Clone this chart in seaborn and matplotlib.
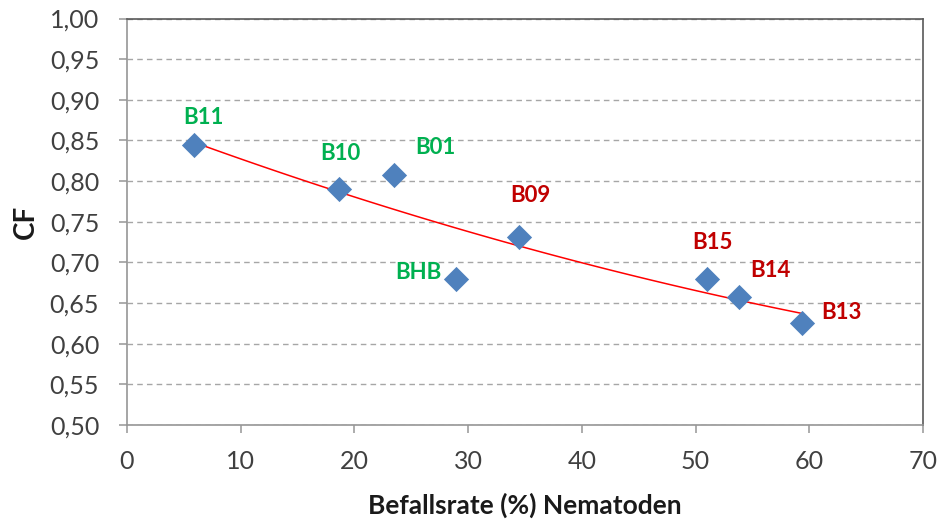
import matplotlib
matplotlib.use("Agg")
import matplotlib.pyplot as plt
import seaborn as sns
import pandas as pd
from matplotlib.ticker import FuncFormatter, MultipleLocator

# data
labels = ["B11", "B10", "B01", "BHB", "B09", "B15", "B14", "B13"]
befallsrate = [5.9, 18.6, 23.5, 28.9, 34.5, 51.0, 53.8, 59.4]
cf = [0.844, 0.790, 0.808, 0.680, 0.731, 0.679, 0.657, 0.626]
groups = ["green", "green", "green", "green", "red", "red", "red", "red"]

df = pd.DataFrame({"x": befallsrate, "y": cf, "label": labels, "group": groups})

sns.set_theme(style="white")
plt.rcParams["font.family"] = ["Lato", "DejaVu Sans"]

fig = plt.figure(figsize=(9.41, 5.20), dpi=100)
ax = fig.add_axes([127/941, 1-425/520, (923-127)/941, (425-18.5)/520])

sns.regplot(data=df, x="x", y="y", order=2, ci=None, scatter=False, ax=ax,
            color="#FF0000", line_kws={"linewidth": 1.1, "zorder": 2}, truncate=True)
sns.scatterplot(data=df, x="x", y="y", marker="D", s=165, color="#4F81BD",
                edgecolor="#4F81BD", linewidth=0, ax=ax, zorder=3, legend=False)

colors = {"green": "#00B050", "red": "#C00000"}
offsets = {"B11": (0.8, 0.0345, "center"), "B10": (0.15, 0.044, "center"),
           "B01": (3.6, 0.0336, "center"), "BHB": (-1.26, 0.007, "right"),
           "B09": (0.95, 0.051, "center"), "B15": (0.5, 0.046, "center"),
           "B14": (2.75, 0.033, "center"), "B13": (3.4, 0.012, "center")}
for lab, x, y, g in zip(labels, befallsrate, cf, groups):
    dx, dy, ha = offsets[lab]
    ax.text(x + dx, y + dy, lab, color=colors[g], fontsize=16, fontweight="bold",
            ha=ha, va="center", zorder=4)

ax.set_xlim(0, 70)
ax.set_ylim(0.5, 1.0)
ax.xaxis.set_major_locator(MultipleLocator(10))
ax.yaxis.set_major_locator(MultipleLocator(0.05))
ax.yaxis.set_major_formatter(FuncFormatter(lambda v, p: f"{v:.2f}".replace(".", ",")))
ax.grid(axis="y", linestyle=(0, (4, 3)), color="#A6A6A6", linewidth=1.0)
ax.grid(axis="x", visible=False)
ax.set_axisbelow(True)

for side in ["left", "bottom"]:
    ax.spines[side].set_color("#969696")
    ax.spines[side].set_linewidth(1.2)
for side in ["top", "right"]:
    ax.spines[side].set_color("#595959")
    ax.spines[side].set_linewidth(1.2)

ax.tick_params(axis="both", which="major", direction="out", length=6, width=1.1,
               color="#969696", labelsize=18, labelcolor="#404040")
ax.tick_params(axis="y", left=True, pad=14)
ax.tick_params(axis="x", bottom=True, pad=12)

ax.set_xlabel("Befallsrate (%) Nematoden", fontsize=19, fontweight="bold",
              color="#1a1a1a", labelpad=14)
ax.set_ylabel("CF", fontsize=20, fontweight="bold", color="#1a1a1a", labelpad=8)

fig.savefig("out.png", dpi=100)
